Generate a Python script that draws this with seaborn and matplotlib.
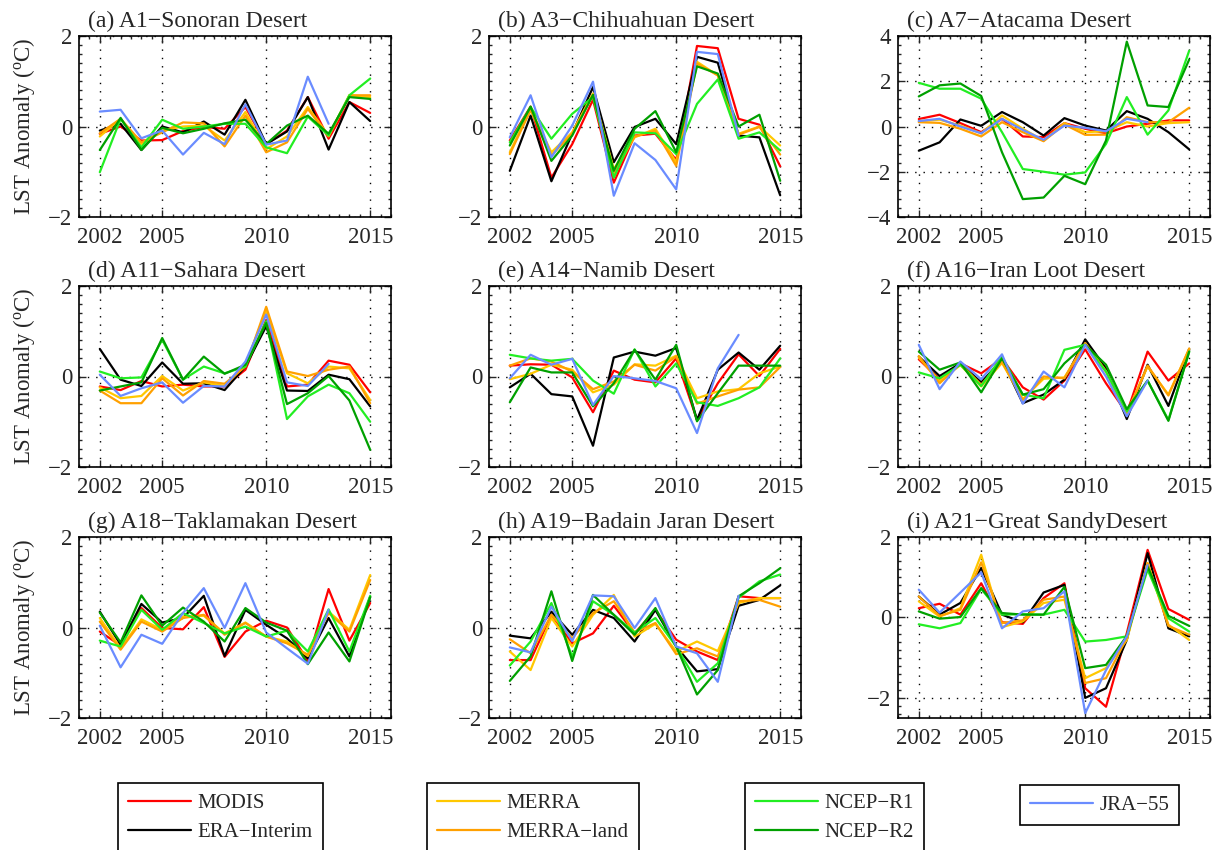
import numpy as np
import pandas as pd
import matplotlib
matplotlib.use("Agg")
import matplotlib.pyplot as plt
from matplotlib.ticker import MultipleLocator, FixedLocator
from matplotlib.lines import Line2D
import seaborn as sns

nan = np.nan
years = list(range(2002, 2016))
datasets = ["MODIS", "ERA\u2212Interim", "MERRA", "MERRA\u2212land", "NCEP\u2212R1", "NCEP\u2212R2", "JRA\u221255"]
colors = ["#FF0000", "#000000", "#FFC800", "#FFA000", "#22EE22", "#00A000", "#6A8CFF"]

titles = ["(a) A1\u2212Sonoran Desert", "(b) A3\u2212Chihuahuan Desert", "(c) A7\u2212Atacama Desert",
          "(d) A11\u2212Sahara Desert", "(e) A14\u2212Namib Desert", "(f) A16\u2212Iran Loot Desert",
          "(g) A18\u2212Taklamakan Desert", "(h) A19\u2212Badain Jaran Desert", "(i) A21\u2212Great SandyDesert"]

sonoran = {
    "MODIS":       [-0.16, 0.00, -0.31, -0.30, -0.10, -0.01, -0.05, 0.43, -0.39, -0.09, 0.65, -0.27, 0.54, 0.30],
    "ERA":         [-0.09, 0.06, -0.52, 0.00, -0.13, 0.11, -0.18, 0.59, -0.39, -0.11, 0.65, -0.51, 0.54, 0.12],
    "MERRA":       [-0.22, 0.17, -0.39, -0.09, 0.00, 0.02, -0.31, 0.32, -0.50, -0.22, 0.43, -0.20, 0.69, 0.65],
    "MERRA-land":  [-0.15, 0.17, -0.35, -0.13, 0.09, 0.07, -0.44, 0.24, -0.57, -0.35, 0.39, -0.22, 0.69, 0.69],
    "NCEP-R1":     [-1.01, 0.17, -0.46, 0.15, -0.05, 0.00, 0.06, 0.06, -0.46, -0.59, 0.22, -0.20, 0.69, 1.06],
    "NCEP-R2":     [-0.52, 0.19, -0.52, -0.03, -0.15, -0.05, 0.07, 0.15, -0.39, 0.02, 0.24, -0.16, 0.65, 0.61],
    "JRA-55":      [0.33, 0.37, -0.26, -0.09, -0.62, -0.14, -0.39, 0.49, -0.40, -0.31, 1.10, 0.06, nan, nan],
}
chihuahuan = {
    "MODIS":       [-0.31, 0.44, -1.13, -0.39, 0.59, -1.24, -0.20, -0.16, -0.74, 1.78, 1.73, 0.17, 0.04, -0.88],
    "ERA":         [-0.98, 0.24, -1.21, -0.16, 0.87, -0.79, -0.01, 0.17, -0.39, 1.54, 1.41, -0.20, -0.24, -1.52],
    "MERRA":       [-0.57, 0.39, -0.57, -0.13, 0.73, -0.94, -0.24, -0.05, -0.79, 1.43, 1.13, -0.16, 0.00, -0.42],
    "MERRA-land":  [-0.61, 0.36, -0.64, -0.16, 0.70, -1.05, -0.22, -0.09, -0.87, 1.39, 1.13, -0.18, -0.01, -0.62],
    "NCEP-R1":     [-0.35, 0.43, -0.27, 0.28, 0.65, -1.13, -0.13, -0.15, -0.61, 0.50, 1.04, -0.27, -0.13, -0.53],
    "NCEP-R2":     [-0.42, 0.44, -0.76, -0.20, 0.70, -0.98, -0.05, 0.34, -0.57, 1.33, 1.17, 0.00, 0.26, -1.20],
    "JRA-55":      [-0.24, 0.69, -0.68, 0.02, 0.99, -1.53, -0.37, -0.74, -1.39, 1.65, 1.60, -0.20, nan, nan],
}
atacama = {
    "MODIS":       [0.33, 0.52, 0.15, -0.25, 0.34, -0.44, -0.47, 0.15, -0.10, -0.30, 0.00, 0.12, 0.27, 0.27],
    "ERA":         [-1.07, -0.70, 0.31, 0.03, 0.64, 0.19, -0.40, 0.37, 0.04, -0.18, 0.68, 0.34, -0.25, -1.01],
    "MERRA":       [0.24, 0.30, 0.04, -0.30, 0.49, -0.10, -0.62, 0.15, -0.25, -0.21, 0.19, 0.00, 0.15, 0.19],
    "MERRA-land":  [0.19, 0.16, -0.10, -0.44, 0.19, -0.25, -0.65, 0.09, -0.37, -0.36, 0.41, 0.19, 0.19, 0.83],
    "NCEP-R1":     [1.93, 1.67, 1.67, 1.23, -0.25, -1.88, -2.00, -2.13, -2.03, -0.77, 1.30, -0.36, 0.71, 3.35],
    "NCEP-R2":     [1.33, 1.82, 1.90, 1.35, -1.14, -3.21, -3.14, -2.18, -2.55, -0.62, 3.75, 0.93, 0.86, 2.96],
    "JRA-55":      [0.24, 0.34, 0.00, -0.30, 0.34, -0.15, -0.59, 0.04, -0.06, -0.21, 0.34, 0.19, nan, nan],
}
sahara = {
    "MODIS":       [-0.22, -0.30, -0.10, -0.22, -0.18, -0.22, -0.22, 0.15, 1.25, -0.22, -0.18, 0.35, 0.26, -0.35],
    "ERA":         [0.61, -0.07, -0.21, 0.31, -0.16, -0.15, -0.30, 0.22, 1.11, -0.31, -0.32, 0.04, -0.06, -0.66],
    "MERRA":       [-0.24, -0.48, -0.43, 0.01, -0.31, -0.13, -0.21, 0.26, 1.46, 0.07, -0.15, 0.22, 0.18, -0.52],
    "MERRA-land":  [-0.31, -0.59, -0.59, -0.04, -0.42, -0.10, -0.16, 0.22, 1.54, 0.11, 0.01, 0.15, 0.22, -0.59],
    "NCEP-R1":     [0.11, -0.04, -0.02, 0.81, -0.07, 0.22, 0.07, 0.22, 1.22, -0.94, -0.44, -0.18, -0.37, -1.00],
    "NCEP-R2":     [-0.31, -0.22, -0.13, 0.85, -0.07, 0.44, 0.06, 0.26, 1.18, -0.61, -0.37, 0.01, -0.53, -1.62],
    "JRA-55":      [0.04, -0.43, -0.26, -0.13, -0.58, -0.21, -0.22, 0.33, 1.37, -0.13, -0.21, 0.28, nan, nan],
}
namib = {
    "MODIS":       [0.24, 0.27, 0.26, -0.02, -0.79, 0.13, -0.07, -0.13, 0.40, -0.96, -0.15, 0.49, 0.01, 0.61],
    "ERA":         [-0.24, 0.06, -0.39, -0.44, -1.53, 0.42, 0.55, 0.46, 0.63, -0.96, 0.15, 0.53, 0.15, 0.68],
    "MERRA":       [-0.06, 0.06, 0.26, 0.15, -0.35, -0.18, 0.27, 0.24, 0.46, -0.48, -0.33, -0.28, 0.07, 0.22],
    "MERRA-land":  [0.24, 0.40, 0.33, 0.11, -0.28, -0.11, 0.26, 0.13, 0.44, -0.60, -0.44, -0.29, -0.24, 0.21],
    "NCEP-R1":     [0.48, 0.40, 0.35, 0.39, -0.09, -0.38, 0.60, -0.22, 0.29, -0.57, -0.65, -0.48, -0.24, 0.40],
    "NCEP-R2":     [-0.57, 0.20, 0.09, 0.09, -0.66, -0.15, 0.59, -0.07, 0.70, -0.99, -0.37, 0.24, 0.24, 0.24],
    "JRA-55":      [-0.04, 0.48, 0.26, 0.39, -0.63, 0.01, -0.04, -0.10, -0.26, -1.25, 0.18, 0.92, nan, nan],
}
iranloot = {
    "MODIS":       [0.38, -0.06, 0.29, 0.07, 0.40, -0.24, -0.51, -0.09, 0.60, -0.15, -0.81, 0.55, -0.09, 0.29],
    "ERA":         [0.44, 0.01, 0.29, -0.13, 0.37, -0.59, -0.40, -0.07, 0.82, 0.18, -0.94, 0.26, -0.65, 0.61],
    "MERRA":       [0.42, -0.10, 0.25, -0.22, 0.30, -0.50, -0.05, -0.02, 0.72, 0.10, -0.80, 0.22, -0.40, 0.60],
    "MERRA-land":  [0.45, -0.15, 0.28, -0.18, 0.33, -0.52, 0.00, -0.04, 0.74, 0.12, -0.84, 0.24, -0.42, 0.62],
    "NCEP-R1":     [0.09, -0.04, 0.26, -0.21, 0.44, -0.40, -0.48, 0.59, 0.70, 0.11, -0.77, -0.09, -0.96, 0.55],
    "NCEP-R2":     [0.55, 0.15, 0.31, -0.35, 0.40, -0.40, -0.28, 0.29, 0.70, 0.26, -0.72, -0.09, -0.98, 0.55],
    "JRA-55":      [0.70, -0.28, 0.33, -0.06, 0.49, -0.60, 0.11, -0.24, 0.70, 0.00, -0.88, -0.09, nan, nan],
}
taklamakan = {
    "MODIS":       [-0.09, -0.40, 0.43, -0.01, -0.04, 0.45, -0.65, -0.09, 0.15, 0.00, -0.74, 0.85, -0.29, 0.54],
    "ERA":         [0.35, -0.38, 0.52, 0.11, 0.21, 0.70, -0.63, 0.39, 0.06, -0.24, -0.68, 0.21, -0.64, 0.68],
    "MERRA":       [0.21, -0.46, 0.18, -0.05, 0.24, 0.26, -0.13, 0.11, -0.20, -0.31, -0.63, 0.35, -0.05, 1.16],
    "MERRA-land":  [0.13, -0.49, 0.13, -0.09, 0.21, 0.28, -0.16, 0.10, -0.20, -0.35, -0.60, 0.32, -0.09, 1.05],
    "NCEP-R1":     [-0.29, -0.42, 0.39, -0.05, 0.32, 0.10, -0.13, 0.02, -0.20, -0.07, -0.53, 0.40, -0.53, 0.70],
    "NCEP-R2":     [0.33, -0.33, 0.71, 0.04, 0.44, 0.13, -0.31, 0.43, 0.11, -0.07, -0.81, -0.11, -0.75, 0.67],
    "JRA-55":      [0.04, -0.88, -0.16, -0.36, 0.32, 0.87, -0.01, 0.98, -0.11, -0.46, -0.80, 0.39, nan, nan],
}
badainjaran = {
    "MODIS":       [-0.72, -0.72, 0.28, -0.35, -0.13, 0.48, -0.13, 0.39, -0.27, -0.53, -0.72, 0.69, 0.65, 0.65],
    "ERA":         [-0.18, -0.24, 0.35, -0.16, 0.39, 0.21, -0.31, 0.39, -0.42, -0.97, -0.92, 0.48, 0.61, 0.93],
    "MERRA":       [-0.53, -0.94, 0.21, -0.42, 0.28, 0.72, -0.20, 0.08, -0.53, -0.31, -0.52, 0.54, 0.65, 0.65],
    "MERRA-land":  [-0.26, -0.57, 0.28, -0.24, 0.32, 0.58, -0.11, 0.10, -0.59, -0.46, -0.64, 0.58, 0.61, 0.46],
    "NCEP-R1":     [-0.84, -0.31, 0.54, -0.64, 0.58, 0.28, -0.11, 0.21, -0.42, -1.20, -0.79, 0.66, 1.02, 1.17],
    "NCEP-R2":     [-1.18, -0.64, 0.80, -0.74, 0.72, 0.28, -0.16, 0.43, -0.42, -1.48, -0.94, 0.69, 0.98, 1.31],
    "JRA-55":      [-0.44, -0.55, 0.46, -0.30, 0.71, 0.69, -0.01, 0.65, -0.42, -0.57, -1.20, 0.70, nan, nan],
}
greatsandy = {
    "MODIS":       [0.23, 0.34, 0.07, 0.85, -0.12, -0.16, 0.48, 0.85, -1.76, -2.22, -0.39, 1.68, 0.21, -0.06],
    "ERA":         [0.52, 0.07, 0.36, 1.23, 0.07, -0.12, 0.62, 0.81, -2.00, -1.76, -0.56, 1.60, -0.27, -0.47],
    "MERRA":       [0.40, 0.02, 0.23, 1.56, -0.24, -0.10, 0.36, 0.44, -1.51, -1.26, -0.56, 1.35, -0.18, -0.56],
    "MERRA-land":  [0.52, 0.04, 0.19, 1.37, -0.14, -0.07, 0.44, 0.52, -1.63, -1.51, -0.51, 1.35, -0.21, -0.43],
    "NCEP-R1":     [-0.17, -0.27, -0.14, 0.71, 0.07, 0.08, 0.07, 0.19, -0.60, -0.56, -0.47, 1.19, -0.02, -0.35],
    "NCEP-R2":     [0.15, -0.03, 0.01, 0.73, 0.11, 0.07, 0.07, 0.76, -1.26, -1.18, -0.46, 1.27, 0.04, -0.21],
    "JRA-55":      [0.69, 0.12, 0.62, 1.12, -0.27, 0.15, 0.23, 0.65, -2.38, -1.31, -0.47, 1.30, nan, nan],
}

panels = [sonoran, chihuahuan, atacama, sahara, namib, iranloot, taklamakan, badainjaran, greatsandy]
ylims = [(-2, 2), (-2, 2), (-4, 4), (-2, 2), (-2, 2), (-2, 2), (-2, 2), (-2, 2), (-2.5, 2)]

sns.set_style("ticks")
plt.rcParams["font.family"] = ["Liberation Serif", "DejaVu Serif"]
plt.rcParams["mathtext.fontset"] = "custom"
plt.rcParams["mathtext.rm"] = "Liberation Serif"
plt.rcParams["mathtext.it"] = "Liberation Serif"

W, H = 1217, 850
fig = plt.figure(figsize=(W / 100, H / 100), dpi=100)

col_left = [79, 489, 898]
row_top = [36, 286, 537]
ax_w, ax_h = 312, 181

palette = dict(zip(datasets, colors))

for k, pdata in enumerate(panels):
    r, c = divmod(k, 3)
    ax = fig.add_axes([col_left[c] / W, 1 - (row_top[r] + ax_h) / H, ax_w / W, ax_h / H])
    keys = list(pdata.keys())
    frames = []
    for name, key in zip(datasets, keys):
        frames.append(pd.DataFrame({"year": years, "anom": pdata[key], "dataset": name}))
    df = pd.concat(frames, ignore_index=True).dropna()
    sns.lineplot(data=df, x="year", y="anom", hue="dataset", hue_order=datasets,
                 palette=palette, estimator=None, sort=True, linewidth=1.6,
                 legend=False, ax=ax)
    ax.set_xlim(2001, 2016)
    ax.set_ylim(*ylims[k])
    ax.xaxis.set_major_locator(FixedLocator([2002, 2005, 2010, 2015]))
    ax.xaxis.set_minor_locator(MultipleLocator(0.5))
    ax.yaxis.set_major_locator(MultipleLocator(2))
    ax.yaxis.set_minor_locator(MultipleLocator(0.4 if k == 2 else 0.2))
    ax.tick_params(which="both", direction="in", top=True, right=True, labelsize=16.5, width=1.0)
    ax.tick_params(which="major", length=5)
    ax.tick_params(which="minor", length=2.5)
    ax.tick_params(axis="x", pad=7)
    ax.tick_params(axis="y", pad=5)
    ax.grid(True, which="major", color="black", linestyle=(0, (1, 5)), linewidth=1.0)
    for s in ax.spines.values():
        s.set_linewidth(1.2)
        s.set_color("black")
    ax.set_xlabel("")
    if c == 0:
        ax.set_ylabel("LST Anomaly ($^{\\mathrm{o}}$C)", fontsize=16.5, labelpad=8)
    else:
        ax.set_ylabel("")
    ax.text(0.03, 1.02, titles[k], transform=ax.transAxes, ha="left", va="bottom", fontsize=17)

handles = [Line2D([0], [0], color=col, linewidth=1.6) for col in colors]
groups = [([0, 1], 118, 783), ([2, 3], 427, 783), ([4, 5], 745, 783), ([6], 1020, 785)]
for idxs, lx, ly in groups:
    leg = fig.legend([handles[i] for i in idxs], [datasets[i] for i in idxs],
                     loc="upper left", bbox_to_anchor=(lx / W, 1 - ly / H),
                     frameon=True, fancybox=False, edgecolor="black", framealpha=1,
                     fontsize=15, handlelength=3.0, handletextpad=0.3,
                     borderpad=0.5, labelspacing=0.45, borderaxespad=0)
    leg.get_frame().set_linewidth(1.2)

fig.savefig("out.png", dpi=100)
